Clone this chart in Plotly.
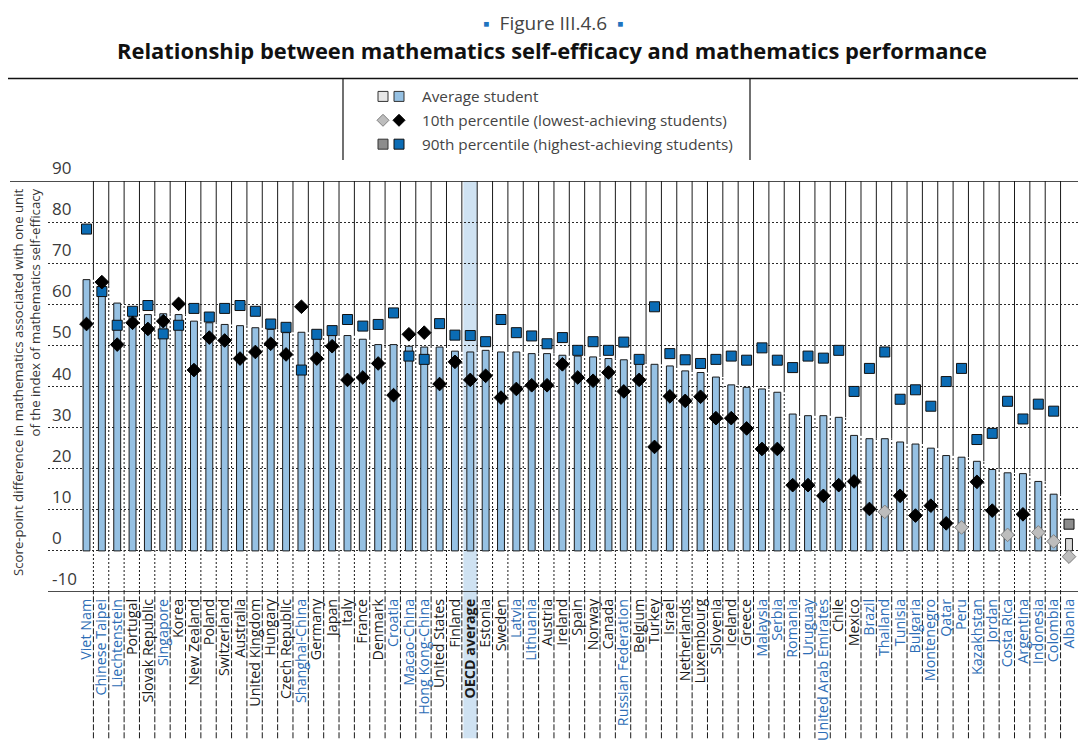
import plotly.graph_objects as go

countries = ["Viet Nam", "Chinese Taipei", "Liechtenstein", "Portugal", "Slovak Republic", "Singapore",
             "Korea", "New Zealand", "Poland", "Switzerland", "Australia", "United Kingdom", "Hungary",
             "Czech Republic", "Shanghai-China", "Germany", "Japan", "Italy", "France", "Denmark",
             "Croatia", "Macao-China", "Hong Kong-China", "United States", "Finland", "OECD average",
             "Estonia", "Sweden", "Latvia", "Lithuania", "Austria", "Ireland", "Spain", "Norway",
             "Canada", "Russian Federation", "Belgium", "Turkey", "Israel", "Netherlands", "Luxembourg",
             "Slovenia", "Iceland", "Greece", "Malaysia", "Serbia", "Romania", "Uruguay",
             "United Arab Emirates", "Chile", "Mexico", "Brazil", "Thailand", "Tunisia", "Bulgaria",
             "Montenegro", "Qatar", "Peru", "Kazakhstan", "Jordan", "Costa Rica", "Argentina",
             "Indonesia", "Colombia", "Albania"]

avg = [66.0, 64.5, 60.3, 58.0, 57.5, 57.7, 57.5, 55.9, 55.5, 55.1, 54.8, 54.3, 53.9,
       53.1, 53.2, 52.5, 52.5, 52.4, 51.5, 50.2, 50.2, 49.8, 49.6, 49.6, 48.6, 48.4,
       48.8, 48.4, 48.4, 48.0, 48.0, 47.6, 47.4, 47.2, 46.8, 46.5, 46.0, 45.4, 45.0,
       43.8, 43.4, 42.3, 40.4, 39.8, 39.4, 38.6, 33.3, 32.9, 32.9, 32.5, 28.1, 27.3,
       27.3, 26.5, 26.0, 25.0, 23.2, 22.8, 21.8, 19.8, 19.0, 18.8, 16.9, 13.8, 3.0]

p10 = [55.2, 65.4, 50.2, 55.5, 54.0, 55.9, 60.1, 44.0, 51.9, 51.2, 46.8, 48.4, 50.4,
       47.8, 59.4, 46.8, 49.8, 41.6, 42.2, 45.6, 37.9, 52.7, 53.1, 40.6, 46.0, 41.6,
       42.6, 37.3, 39.4, 40.3, 40.3, 45.4, 42.2, 41.4, 43.4, 38.8, 41.6, 25.3, 37.6,
       36.5, 37.5, 32.3, 32.3, 29.8, 24.8, 24.8, 16.0, 16.0, 13.4, 16.0, 16.9, 10.2,
       9.5, 13.4, 8.6, 11.0, 6.7, 5.7, 16.8, 9.8, 3.9, 8.9, 4.5, 2.3, -1.4]

p90 = [78.3, 63.1, 54.9, 58.3, 59.7, 52.8, 54.9, 59.0, 56.9, 59.0, 59.7, 58.3, 55.2,
       54.4, 44.0, 52.7, 53.6, 56.3, 54.7, 55.1, 57.9, 47.4, 46.6, 55.3, 52.5, 52.4,
       50.9, 56.3, 53.1, 52.3, 50.4, 51.9, 48.8, 50.9, 48.8, 50.8, 46.6, 59.4, 48.0,
       46.5, 45.6, 46.6, 47.4, 46.4, 49.4, 46.4, 44.6, 47.4, 46.9, 48.8, 38.8, 44.4,
       48.4, 36.9, 39.2, 35.2, 41.2, 44.4, 27.1, 28.6, 36.4, 32.1, 35.7, 34.0, 6.5]

# significance flags (not statistically significant -> drawn in grey)
not_sig_avg = ["Albania"]
not_sig_p10 = ["Thailand", "Peru", "Costa Rica", "Indonesia", "Colombia", "Albania"]
not_sig_p90 = ["Albania"]

partners = ["Viet Nam", "Chinese Taipei", "Liechtenstein", "Singapore", "Shanghai-China", "Croatia",
            "Macao-China", "Hong Kong-China", "Latvia", "Lithuania", "Russian Federation", "Malaysia",
            "Serbia", "Romania", "Uruguay", "United Arab Emirates", "Brazil", "Thailand", "Tunisia",
            "Bulgaria", "Montenegro", "Qatar", "Peru", "Kazakhstan", "Jordan", "Costa Rica",
            "Argentina", "Indonesia", "Colombia", "Albania"]

y_ticks = [-10, 0, 10, 20, 30, 40, 50, 60, 70, 80, 90]

legend_labels = ["Average student", "10th percentile (lowest-achieving students)",
                 "90th percentile (highest-achieving students)"]

# ---------------- layout geometry ----------------
# page body has an 8px margin; keep the figure inside the window so nothing scrolls
OFF = 8
W, H = 1086 - 2 * OFF, 749 - 2 * OFF
L, R = 48 - OFF, 0
T = 181 - OFF
B = H - (594 - OFF)
PW, PH = W - L - R, H - T - B
FONT = "Open Sans"
BLUE_LBL = "#2c6db6"

# x range: first column centred at screen x 86.5, last column kept just inside the figure
first_c, last_c = 86.5, 1069.0
step = (last_c - first_c) / 64.0
x0_range = -(first_c - OFF - L) / step
x1_range = 64 + ((W + OFF) - last_c) / step


def px(xs):
    """screen x (pixels) -> paper x"""
    return (xs - OFF - L) / PW


def py(ys):
    """screen y (pixels) -> paper y"""
    return (H - B - (ys - OFF)) / PH


n = len(countries)
bar_fill = ["#d9d9d9" if c in not_sig_avg else "#96c1e3" for c in countries]
d_fill = ["#bdbdbd" if c in not_sig_p10 else "#000000" for c in countries]
d_line = ["#7f7f7f" if c in not_sig_p10 else "#000000" for c in countries]
s_fill = ["#8c8c8c" if c in not_sig_p90 else "#0b6cb5" for c in countries]

fig = go.Figure()
fig.add_trace(go.Bar(x=countries, y=avg, width=0.45,
                     marker=dict(color=bar_fill, line=dict(color="#1a1a1a", width=1)),
                     showlegend=False, hoverinfo="x+y"))
fig.add_trace(go.Scatter(x=countries, y=p90, mode="markers",
                         marker=dict(symbol="square", size=10, color=s_fill,
                                     line=dict(color="#111111", width=1)),
                         showlegend=False))
fig.add_trace(go.Scatter(x=countries, y=p10, mode="markers",
                         marker=dict(symbol="diamond", size=10.5, color=d_fill,
                                     line=dict(color=d_line, width=1)),
                         showlegend=False))

shapes = []
# OECD average band
oi = countries.index("OECD average")
shapes.append(dict(type="rect", xref="x", yref="paper", x0=oi - 0.45, x1=oi + 0.45,
                   y0=-B / PH, y1=1, fillcolor="#cfe2f2", line=dict(width=0), layer="below"))

# column separators
for i in range(n - 1):
    xs = i + 0.45
    split = max(avg[i], avg[i + 1])
    shapes.append(dict(type="line", xref="x", yref="y", x0=xs, x1=xs, y0=split, y1=90,
                       line=dict(color="#1a1a1a", width=1), layer="below"))
    shapes.append(dict(type="line", xref="x", yref="y", x0=xs, x1=xs, y0=-10, y1=split,
                       line=dict(color="#1a1a1a", width=1, dash="2px,2px"), layer="below"))
    shapes.append(dict(type="line", xref="x", yref="paper", x0=xs, x1=xs, y0=-B / PH, y1=0,
                       line=dict(color="#1a1a1a", width=1, dash="6px,2px"), layer="below"))

# top / bottom frame lines
shapes.append(dict(type="line", xref="paper", yref="y", x0=px(10), x1=1, y0=90, y1=90,
                   line=dict(color="#111111", width=1.5)))
shapes.append(dict(type="line", xref="paper", yref="y", x0=0, x1=1, y0=-10, y1=-10,
                   line=dict(color="#111111", width=1.5)))
# legend frame
shapes.append(dict(type="line", xref="paper", yref="paper", x0=px(8), x1=1, y0=py(78), y1=py(78),
                   line=dict(color="#111111", width=1.5)))
for xl in (343, 750):
    shapes.append(dict(type="line", xref="paper", yref="paper", x0=px(xl), x1=px(xl),
                       y0=py(78), y1=py(160), line=dict(color="#111111", width=1.2)))

# legend keys
rows = [96, 120, 144]
key_x = [383, 399]
key_fill = [("#e6e6e6", "#96c1e3"), ("#bdbdbd", "#000000"), ("#8c8c8c", "#0b6cb5")]
key_line = [("#333333", "#333333"), ("#7f7f7f", "#000000"), ("#333333", "#111111")]
for r, yy in enumerate(rows):
    for k, xx in enumerate(key_x):
        if r == 1:
            shapes.append(dict(type="path", xref="paper", yref="paper", xsizemode="pixel",
                               ysizemode="pixel", xanchor=px(xx), yanchor=py(yy),
                               path="M 0 6 L 6 0 L 0 -6 L -6 0 Z",
                               fillcolor=key_fill[r][k], line=dict(color=key_line[r][k], width=1)))
        else:
            shapes.append(dict(type="rect", xref="paper", yref="paper", xsizemode="pixel",
                               ysizemode="pixel", xanchor=px(xx), yanchor=py(yy),
                               x0=-5, x1=5, y0=-5, y1=5,
                               fillcolor=key_fill[r][k], line=dict(color=key_line[r][k], width=1)))

annotations = []
for r, yy in enumerate(rows):
    annotations.append(dict(text=legend_labels[r], xref="paper", yref="paper", x=px(420), y=py(yy),
                            xanchor="left", yanchor="middle", showarrow=False,
                            font=dict(family=FONT, size=15.3, color="#444444")))

# y tick labels sitting above the gridlines
for v in y_ticks:
    annotations.append(dict(text=str(v), xref="paper", yref="y", x=px(50), y=v,
                            xanchor="left", yanchor="bottom", showarrow=False,
                            font=dict(family=FONT, size=17, color="#3a3a3a")))

# y-axis title
annotations.append(dict(text="Score-point difference in mathematics associated with one unit<br>"
                             "of the index of mathematics self-efficacy",
                        xref="paper", yref="paper", x=px(27), y=py(186), xanchor="center",
                        yanchor="top", textangle=-90, align="right", showarrow=False,
                        font=dict(family=FONT, size=13.2, color="#333333")))

# titles
annotations.append(dict(text="<span style='color:#1f74bf'>▪</span>&nbsp; Figure III.4.6 &nbsp;"
                             "<span style='color:#1f74bf'>▪</span>",
                        xref="paper", yref="paper", x=px(553), y=py(22), xanchor="center",
                        yanchor="middle", showarrow=False,
                        font=dict(family=FONT, size=19, color="#444444")))
annotations.append(dict(text="<b>Relationship between mathematics self-efficacy and mathematics performance</b>",
                        xref="paper", yref="paper", x=px(552), y=py(50), xanchor="center",
                        yanchor="middle", showarrow=False,
                        font=dict(family=FONT, size=21.9, color="#111111")))

ticktext = []
for c in countries:
    if c == "OECD average":
        ticktext.append("<b>OECD average</b>")
    elif c in partners:
        ticktext.append(f"<span style='color:{BLUE_LBL}'>{c}</span>")
    else:
        ticktext.append(c)

fig.update_layout(
    width=W, height=H,
    margin=dict(l=L, r=R, t=T, b=B, pad=0),
    paper_bgcolor="white", plot_bgcolor="white",
    shapes=shapes, annotations=annotations,
    bargap=0.5, showlegend=False,
    font=dict(family=FONT),
    xaxis=dict(type="category", range=[x0_range, x1_range], tickmode="array",
               tickvals=countries, ticktext=ticktext, tickangle=-90,
               tickfont=dict(family=FONT, size=14.3, color="#1a1a1a"),
               showgrid=False, zeroline=False, showline=False, ticks="",
               ticklabelstandoff=3, fixedrange=True),
    yaxis=dict(range=[-10, 90], tickvals=y_ticks, showticklabels=False,
               showgrid=True, gridcolor="#2a2a2a", gridwidth=1, griddash="2px,2px",
               zeroline=False, showline=False, ticks="", fixedrange=True),
)

fig.write_html("out.html")
